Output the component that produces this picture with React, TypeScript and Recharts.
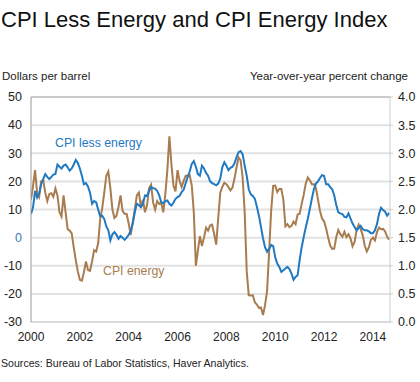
import React from 'react';
import { LineChart, Line, XAxis, YAxis, CartesianGrid, ReferenceLine } from 'recharts';

// Monthly observations, January 2000 onward
const START_YEAR = 2000;

// CPI energy, year-over-year percent change (left axis)
const cpiEnergy = [
  13.6, 18.4, 24, 16, 14.5, 20, 20.5, 16, 13, 15.5,
  15.8, 14.5, 17.5, 15, 9, 7.5, 15, 9, 3, 2.5,
  1.5, -3.5, -8, -12, -15, -15.3, -12.3, -8.5, -11.5, -11.8,
  -8.5, -4.5, -5, -2, 6.6, 10.5, 16, 22, 23.5, 17.5,
  10, 7, 7.8, 11, 15, 9.5, 8.5, 8.4, 5, 0.9,
  5.5, 10, 15, 16, 11, 13.5, 9, 11.5, 17.5, 18.8,
  12.5, 10, 13, 12, 12.5, 9, 15.4, 24, 36, 26,
  18.5, 16.4, 24, 20.2, 18, 20.2, 22, 22, 22.2, 18.5,
  9, -10, -4.6, 0.5, -3, 0, 3.5, 2.5, 4.3, 4.6,
  1.3, -2.5, 7, 16, 18, 19.5, 19, 18, 16.8, 17.8,
  21, 25, 28.5, 27.5, 21.3, 9, -12, -20.5, -20.6, -20.5,
  -23, -23.8, -25, -24.8, -27.5, -24, -19, -5, 9.5, 18.4,
  18.5, 16.2, 17.3, 17.3, 13.5, 4, 4.8, 3.7, 4.2, 5.7,
  4.8, 8.2, 8.5, 12, 15.2, 19.2, 21.4, 20.4, 19, 19,
  17.6, 13.6, 9.5, 6.8, 5.8, 3.3, 0, -2.8, -4, -3.9,
  0.2, 2.7, 1.2, 0.3, 2.1, 0.2, 1.2, -0.3, -3.1, -1.5,
  2.7, 4.6, 3, 0.8, -2.9, -4.9, -3.5, -0.8, 0, -1,
  2, 3.6, 3, 3.1, 2.2, 0.3, -0.7,
];

// CPI less energy, year-over-year percent change (right axis)
const cpiLessEnergy = [
  1.92, 2.04, 2.33, 2.21, 2.28, 2.45, 2.54, 2.63, 2.58, 2.54,
  2.58, 2.62, 2.63, 2.8, 2.76, 2.73, 2.78, 2.8, 2.75, 2.69,
  2.73, 2.8, 2.88, 2.83, 2.73, 2.6, 2.45, 2.47, 2.41, 2.3,
  2.1, 2.15, 2.13, 2.0, 1.88, 1.89, 1.83, 1.7, 1.63, 1.45,
  1.56, 1.6, 1.55, 1.48, 1.53, 1.5, 1.46, 1.5, 1.55, 1.62,
  1.75, 1.95, 2.1, 2.08, 2.04, 2.1, 2.25, 2.24, 2.33, 2.4,
  2.38, 2.37, 2.33, 2.25, 2.13, 2.11, 2.15, 2.16, 2.1, 2.07,
  2.12, 2.19, 2.22, 2.24, 2.31, 2.35, 2.47, 2.58, 2.68, 2.81,
  2.86, 2.76, 2.63, 2.6, 2.78, 2.73, 2.65, 2.6, 2.5, 2.47,
  2.45, 2.43, 2.46, 2.55, 2.75, 2.84, 2.78, 2.7, 2.74, 2.76,
  2.82, 2.93, 3.02, 3.04, 2.98, 2.78, 2.6, 2.36, 2.27, 2.24,
  2.19, 2.05, 1.89, 1.69, 1.49, 1.33, 1.25, 1.3, 1.37, 1.35,
  1.15, 1.04, 0.98, 0.89, 0.92, 0.95, 0.98, 0.94, 0.86, 0.75,
  0.8, 0.83, 1.1, 1.33, 1.51, 1.68, 1.83, 2.01, 2.19, 2.36,
  2.46, 2.5, 2.56, 2.61, 2.6, 2.45, 2.45, 2.4, 2.36, 2.25,
  2.08, 1.95, 1.93, 1.92, 1.87, 1.86, 1.93, 1.84, 1.75, 1.69,
  1.63, 1.67, 1.71, 1.65, 1.63, 1.63, 1.61, 1.58, 1.58, 1.63,
  1.74, 1.92, 2.03, 1.99, 1.96, 1.89, 1.94,
];

const xTicks = [2000, 2002, 2004, 2006, 2008, 2010, 2012, 2014];
const leftTicks = [-30, -20, -10, 0, 10, 20, 30, 40, 50];
const rightTicks = [0, 0.5, 1, 1.5, 2, 2.5, 3, 3.5, 4];

const TITLE = 'CPI Less Energy and CPI Energy Index';
const LEFT_LABEL = 'Dollars per barrel';
const RIGHT_LABEL = 'Year-over-year percent change';
const SOURCE = 'Sources: Bureau of Labor Statistics, Haver Analytics.';
const CORE_NAME = 'CPI less energy';
const ENERGY_NAME = 'CPI energy';

const BLUE = '#1f79c3';
const BROWN = '#a97c4f';
const ZERO_BLUE = '#3b77b5';
const FONT = '"Liberation Sans", Arial, Helvetica, sans-serif';
const TEXT = '#222222';

const data = cpiEnergy.map((v, i) => ({
  t: START_YEAR + i / 12,
  energy: v,
  core: cpiLessEnergy[i],
}));

const LeftTick = (props: any) => {
  const { x, y, payload } = props;
  return (
    <text
      x={x}
      y={y}
      dy={4.3}
      textAnchor="end"
      fontSize={12.5}
      fontFamily={FONT}
      fill={payload.value === 0 ? ZERO_BLUE : TEXT}
    >
      {payload.value}
    </text>
  );
};

export default function App() {
  return (
    <div style={{ position: 'absolute', left: 0, top: 0, width: 420, height: 382, background: '#fff' }}>
      <LineChart
        width={420}
        height={382}
        data={data}
        margin={{ top: 97, right: 0, bottom: 0, left: 0 }}
      >
        <CartesianGrid
          yAxisId="left"
          vertical={false}
          stroke="#e2e2e2"
          strokeWidth={2}
        />
        <XAxis
          dataKey="t"
          type="number"
          domain={[2000, 2014.7]}
          ticks={xTicks}
          allowDataOverflow
          height={60}
          tickSize={0}
          tickMargin={10}
          axisLine={{ stroke: '#d4d4d4' }}
          tick={{ fontSize: 12, fill: TEXT, fontFamily: FONT }}
        />
        <YAxis
          yAxisId="left"
          domain={[-30, 50]}
          ticks={leftTicks}
          width={31}
          tickSize={0}
          tickMargin={9}
          axisLine={{ stroke: '#999999' }}
          tick={<LeftTick />}
          interval={0}
        />
        <YAxis
          yAxisId="right"
          orientation="right"
          domain={[0, 4]}
          ticks={rightTicks}
          width={30}
          tickSize={3}
          tickMargin={5}
          axisLine={{ stroke: '#cccccc' }}
          tickLine={{ stroke: '#cccccc' }}
          tickFormatter={(v: number) => v.toFixed(1)}
          tick={{ fontSize: 12.5, fill: TEXT, fontFamily: FONT, textAnchor: 'start' }}
          interval={0}
        />
        <ReferenceLine yAxisId="left" y={50} stroke="#b5b5b5" strokeWidth={1} />
        <Line
          yAxisId="left"
          dataKey="energy"
          type="linear"
          stroke={BROWN}
          strokeWidth={2}
          dot={false}
          isAnimationActive={false}
        />
        <Line
          yAxisId="right"
          dataKey="core"
          type="linear"
          stroke={BLUE}
          strokeWidth={2}
          dot={false}
          isAnimationActive={false}
        />
      </LineChart>
      <svg
        width={420}
        height={382}
        style={{ position: 'absolute', left: 0, top: 0, pointerEvents: 'none' }}
      >
        <text x={1} y={27} fontSize={22} fontFamily={FONT} fill="#111">{TITLE}</text>
        <text x={2} y={80} fontSize={11.5} fontFamily={FONT} fill={TEXT}>{LEFT_LABEL}</text>
        <text x={408} y={80} fontSize={11.5} fontFamily={FONT} fill={TEXT} textAnchor="end">{RIGHT_LABEL}</text>
        <text x={55} y={146.5} fontSize={12.3} fontFamily={FONT} fill={BLUE}>{CORE_NAME}</text>
        <text x={103} y={275.3} fontSize={12.3} fontFamily={FONT} fill={BROWN}>{ENERGY_NAME}</text>
        <text x={1} y={367} fontSize={10.6} fontFamily={FONT} fill={TEXT}>{SOURCE}</text>
      </svg>
    </div>
  );
}
